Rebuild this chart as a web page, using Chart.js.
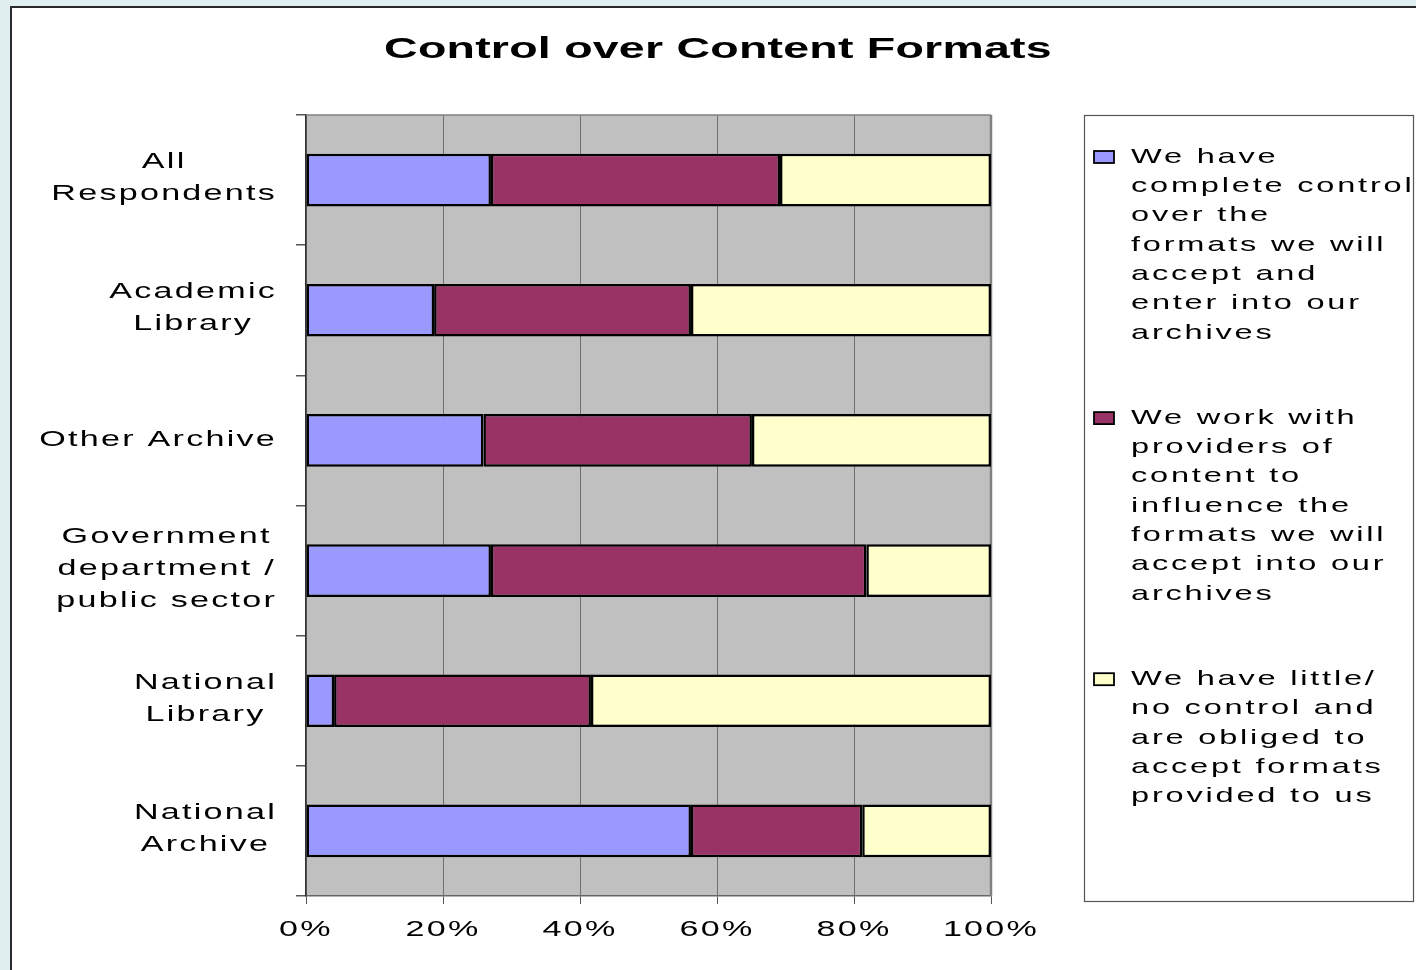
<!DOCTYPE html>
<html>
<head>
<meta charset="utf-8">
<script src="https://cdn.jsdelivr.net/npm/chart.js@4.4.1/dist/chart.umd.min.js"></script>
<style>
html,body{margin:0;padding:0;background:#e1eef0;overflow:hidden}
canvas{display:block}
</style>
</head>
<body>
<canvas id="c" width="1416" height="970"></canvas>
<script>
// ---------------- data ----------------
const chartTitle = 'Control over Content Formats';
const categories = [
  ['All', 'Respondents'],
  ['Academic', 'Library'],
  ['Other Archive'],
  ['Government', 'department /', 'public sector'],
  ['National', 'Library'],
  ['National', 'Archive']
];
const completeControl   = [27.0, 18.7, 25.9, 27.0,  4.1, 56.2];
const workWithProviders = [42.2, 37.5, 39.2, 54.8, 37.5, 25.0];
const littleControl     = [30.8, 43.8, 34.9, 18.2, 58.4, 18.8];
const xTickValues = [0, 20, 40, 60, 80, 100];
const seriesNames = [
  ['We have', 'complete control', 'over the', 'formats we will', 'accept and', 'enter into our', 'archives'],
  ['We work with', 'providers of', 'content to', 'influence the', 'formats we will', 'accept into our', 'archives'],
  ['We have little/', 'no control and', 'are obliged to', 'accept formats', 'provided to us']
];

// ---------------- text styling (wide Excel-like rendering) ----------------
const FONT = "'Liberation Sans', Arial, sans-serif";
const SX = 1.55;
const canvas = document.getElementById('c');
const ctx = canvas.getContext('2d');
const proto = CanvasRenderingContext2D.prototype;
const hasLS = 'letterSpacing' in ctx;
function spacingFor(font) {
  if (/bold|[6-9]00/.test(font)) return 0.15;
  if (/\b21px/.test(font)) return 1.8;
  return 1.45;
}
ctx.fillText = function (text, x, y, maxWidth) {
  const ls = spacingFor(this.font);
  this.save();
  if (hasLS) this.letterSpacing = ls + 'px';
  this.translate(x, y);
  this.scale(SX, 1);
  if (maxWidth !== undefined && maxWidth !== null) proto.fillText.call(this, text, 0, 0, maxWidth / SX);
  else proto.fillText.call(this, text, 0, 0);
  this.restore();
};
ctx.measureText = function (text) {
  const ls = spacingFor(this.font);
  let prev;
  if (hasLS) { prev = this.letterSpacing; this.letterSpacing = ls + 'px'; }
  const m = proto.measureText.call(this, text);
  if (hasLS) this.letterSpacing = prev;
  let w = m.width;
  if (!hasLS) w += String(text).length * ls;
  return { width: w * SX, actualBoundingBoxAscent: m.actualBoundingBoxAscent, actualBoundingBoxDescent: m.actualBoundingBoxDescent };
};

// ---------------- custom legend layout box ----------------
function makeLegendBox(chart) {
  return {
    position: 'right', weight: 0, fullSize: false, options: {display: true},
    left: 0, top: 0, right: 0, bottom: 0, width: 0, height: 0,
    isHorizontal() { return false; },
    update(maxW, maxH) { this.width = 425; this.height = maxH; },
    draw() {
      const c = chart.ctx;
      const area = chart.chartArea;
      const bx = this.left + 93, by = area.top, bw = 329, bh = area.bottom - area.top + 5;
      c.save();
      c.fillStyle = '#ffffff';
      c.fillRect(bx, by, bw, bh);
      c.strokeStyle = '#555555';
      c.lineWidth = 1.2;
      c.strokeRect(bx + 0.5, by + 0.5, bw, bh);
      c.font = '21px ' + FONT;
      c.textBaseline = 'middle';
      c.textAlign = 'left';
      const lineH = 29.3;
      let y = by + 42;
      chart.data.datasets.forEach(ds => {
        c.fillStyle = ds.backgroundColor;
        c.fillRect(bx + 10, y - 6, 20, 12);
        c.strokeStyle = '#000';
        c.lineWidth = 1.8;
        c.strokeRect(bx + 10, y - 6, 20, 12);
        c.fillStyle = '#000';
        ds.legendLines.forEach((ln, i) => c.fillText(ln, bx + 47, y + i * lineH));
        y += ds.legendLines.length * lineH + 56;
      });
      c.restore();
    }
  };
}

const framePlugin = {
  id: 'frame',
  beforeInit(chart) {
    const box = makeLegendBox(chart);
    if (Chart.layouts && Chart.layouts.addBox) {
      Chart.layouts.addBox(chart, box);
    } else {
      box._layers = () => [{z: 0, draw() { box.draw(); }}];
      chart.boxes.push(box);
    }
  },
  beforeDraw(chart) {
    const c = chart.ctx, a = chart.chartArea;
    c.save();
    c.fillStyle = '#e1eef0';
    c.fillRect(0, 0, chart.width, chart.height);
    c.fillStyle = '#ffffff';
    c.fillRect(10, 6, chart.width, chart.height);
    c.strokeStyle = '#2a2a2a';
    c.lineWidth = 2;
    c.beginPath();
    c.moveTo(11, chart.height + 5);
    c.lineTo(11, 7);
    c.lineTo(chart.width + 5, 7);
    c.stroke();
    c.fillStyle = '#c0c0c0';
    c.fillRect(a.left, a.top, a.right - a.left, a.bottom - a.top);
    c.restore();
  },
  beforeDatasetsDraw(chart) {
    const c = chart.ctx, a = chart.chartArea;
    c.save();
    c.strokeStyle = '#808080';
    c.lineWidth = 1.5;
    c.beginPath();
    c.moveTo(a.left, a.top);
    c.lineTo(a.right, a.top);
    c.stroke();
    c.lineWidth = 2.5;
    c.beginPath();
    c.moveTo(a.right, a.top);
    c.lineTo(a.right, a.bottom);
    c.stroke();
    c.restore();
  },
  afterDraw(chart) {
    const c = chart.ctx, ys = chart.scales.y;
    c.save();
    c.font = '22px ' + FONT;
    c.textAlign = 'center';
    c.textBaseline = 'middle';
    c.fillStyle = '#000';
    chart.data.labels.forEach((lab, i) => {
      const lines = Array.isArray(lab) ? lab : [lab];
      const w = Math.max(...lines.map(l => c.measureText(l).width));
      const cx = ys.right - 29 - w / 2;
      const cy = ys.getPixelForTick(i);
      const n = lines.length;
      lines.forEach((l, j) => c.fillText(l, cx, cy + (j - (n - 1) / 2) * 32 - (n > 1 ? 2 : 0)));
    });
    c.restore();
  }
};

const colors = ['#9999ff', '#993366', '#ffffcc'];
const seriesValues = [completeControl, workWithProviders, littleControl];

new Chart(ctx, {
  type: 'bar',
  data: {
    labels: categories,
    datasets: seriesValues.map((vals, k) => ({
      label: seriesNames[k].join(' '),
      legendLines: seriesNames[k],
      data: vals,
      backgroundColor: colors[k],
      borderColor: '#000000',
      borderWidth: 2.5,
      borderSkipped: false,
      inflateAmount: 0,
      barPercentage: 0.405,
      categoryPercentage: 1.0
    }))
  },
  options: {
    indexAxis: 'y',
    responsive: false,
    animation: false,
    devicePixelRatio: 1,
    layout: {padding: {left: 20, right: 0, top: 0, bottom: 13.6}},
    plugins: {
      legend: {display: false},
      tooltip: {enabled: false},
      title: {
        display: true,
        text: chartTitle,
        color: '#000',
        font: {family: FONT, size: 30, weight: 'bold', lineHeight: 1.2},
        padding: {top: 32, bottom: 47}
      }
    },
    scales: {
      x: {
        stacked: true,
        min: 0, max: 100,
        afterBuildTicks(scale) { scale.ticks = xTickValues.map(v => ({value: v})); },
        ticks: {
          color: '#000',
          font: {family: FONT, size: 22},
          padding: 13,
          maxRotation: 0,
          callback: v => v + '%'
        },
        grid: {color: '#6f6f6f', lineWidth: 1, drawTicks: true, tickLength: 8, tickColor: '#555'},
        border: {display: true, color: '#666', width: 1.5}
      },
      y: {
        stacked: true,
        afterFit(scale) { scale.width = 286; },
        ticks: {display: false},
        grid: {offset: true, drawOnChartArea: false, drawTicks: true, tickLength: 10, color: '#555', lineWidth: 1.5},
        border: {display: true, color: '#333', width: 1.5}
      }
    }
  },
  plugins: [framePlugin]
});
</script>
</body>
</html>
